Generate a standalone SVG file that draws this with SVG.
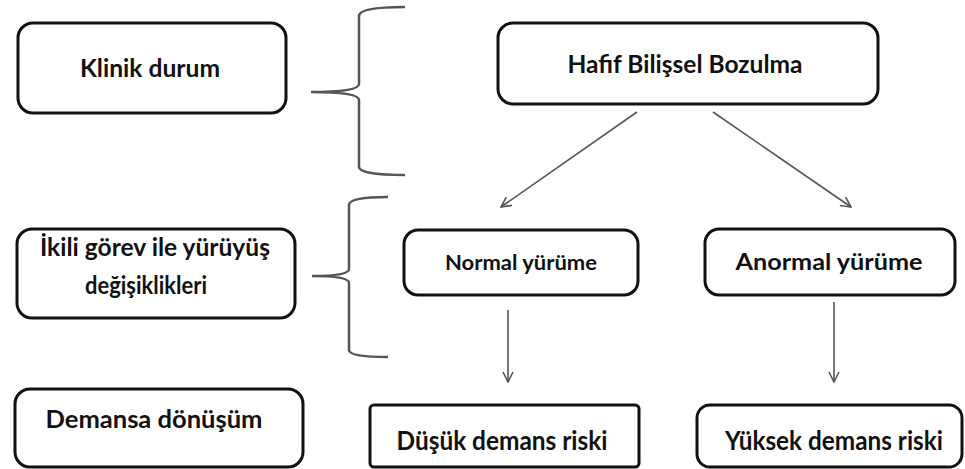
<svg xmlns="http://www.w3.org/2000/svg" width="965" height="469" viewBox="0 0 965 469">
<defs>
<style>
.box{fill:#fff;stroke:#111;stroke-width:3}
.lbl{font-family:Lato,"Open Sans","Liberation Sans",sans-serif;font-weight:700;fill:#111;text-anchor:middle}
.brace{fill:none;stroke:#555;stroke-width:2.5}
.conn{fill:none;stroke:#555;stroke-width:1.6;marker-end:url(#ah)}
</style>
<marker id="ah" viewBox="0 0 12 12" refX="11" refY="6" markerWidth="12" markerHeight="12" markerUnits="userSpaceOnUse" orient="auto">
<path d="M1,1 L11,6 L1,11" fill="none" stroke="#555" stroke-width="1.6"/>
</marker>
</defs>
<rect width="965" height="469" fill="#fff"/>
<g id="braces">
<path class="brace" d="M405,7 C380,7 359,9 359,16 L359,84 C359,90 340,92 311,92 C340,92 359,94 359,100 L359,167 C359,173 380,175 405,175"/>
<path class="brace" d="M388,197 C365,197 349,199 349,205 L349,269 C349,274 335,276 312,276 C335,276 349,278 349,283 L349,350 C349,355 365,357 388,357"/>
</g>
<g id="klinik">
<rect class="box" x="18" y="23" width="268" height="90" rx="15"/>
<text class="lbl" x="150" y="77" font-size="24" textLength="140" lengthAdjust="spacingAndGlyphs">Klinik durum</text>
</g>
<g id="hafif">
<rect class="box" x="498" y="23" width="380" height="81" rx="15"/>
<text class="lbl" x="685" y="73" font-size="25" textLength="235" lengthAdjust="spacingAndGlyphs">Hafif Bilişsel Bozulma</text>
</g>
<g id="ikili">
<rect class="box" x="17" y="229" width="278" height="89" rx="15"/>
<text class="lbl" x="155" y="256" font-size="25" textLength="230" lengthAdjust="spacingAndGlyphs">İkili görev ile yürüyüş</text>
<text class="lbl" x="146" y="294" font-size="25" textLength="122" lengthAdjust="spacingAndGlyphs">değişiklikleri</text>
</g>
<g id="normal">
<rect class="box" x="404" y="230" width="234" height="65" rx="14"/>
<text class="lbl" x="521" y="270" font-size="21" textLength="152" lengthAdjust="spacingAndGlyphs">Normal yürüme</text>
</g>
<g id="anormal">
<rect class="box" x="705" y="229" width="250" height="66" rx="14"/>
<text class="lbl" x="829" y="270" font-size="22" textLength="187" lengthAdjust="spacingAndGlyphs">Anormal yürüme</text>
</g>
<g id="demansa">
<rect class="box" x="15" y="389" width="288" height="78" rx="15"/>
<text class="lbl" x="154" y="428" font-size="25" textLength="217" lengthAdjust="spacingAndGlyphs">Demansa dönüşüm</text>
</g>
<g id="dusuk">
<rect class="box" x="370" y="405" width="269" height="62" rx="4"/>
<text class="lbl" x="502" y="450" font-size="26" textLength="211" lengthAdjust="spacingAndGlyphs">Düşük demans riski</text>
</g>
<g id="yuksek">
<rect class="box" x="697" y="405" width="265" height="62" rx="13"/>
<text class="lbl" x="834" y="450" font-size="26" textLength="218" lengthAdjust="spacingAndGlyphs">Yüksek demans riski</text>
</g>
<g id="connectors">
<line class="conn" x1="637" y1="112" x2="501" y2="207"/>
<line class="conn" x1="713" y1="112" x2="851" y2="207"/>
<line class="conn" x1="508" y1="310" x2="508" y2="382"/>
<line class="conn" x1="834" y1="302" x2="834" y2="382"/>
</g>
</svg>
